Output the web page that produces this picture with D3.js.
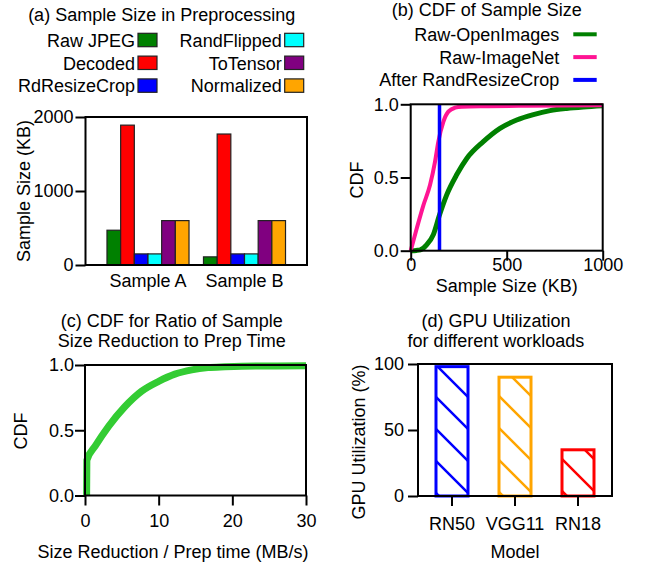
<!DOCTYPE html>
<head>
  <meta charset="utf-8">
  <style>
    body { margin: 0; background: #fff; }
    svg text {
      font-family: 'Liberation Sans', Arial, Helvetica, sans-serif;
      font-size: 18px;
      fill: #000;
    }
    .axis path.domain { display: none; }
    .axis line { stroke: #000; stroke-width: 2; }
    .axis text {
      font-family: 'Liberation Sans', Arial, Helvetica, sans-serif;
      font-size: 18px;
      fill: #000;
    }
  </style>
</head>

<body>
  <script src="https://cdn.jsdelivr.net/npm/d3@7"></script>
  <script>
    // ---------------- data ----------------
    // (a) sample size per preprocessing stage
    const samples = ["Sample A", "Sample B"];
    const stages = ["Raw JPEG", "Decoded", "RdResizeCrop", "RandFlipped", "ToTensor", "Normalized"];
    const stageColors = ["#008000", "#ff0000", "#0000ff", "#00ffff", "#800080", "#ffa500"];
    const sampleA = [470, 1890, 150, 150, 600, 600];
    const sampleB = [110, 1770, 150, 150, 600, 600];

    // (b) CDF of sample size (KB)
    const cdfSeries = ["Raw-OpenImages", "Raw-ImageNet", "After RandResizeCrop"];
    const cdfColors = ["#008000", "#ff1493", "#0000ff"];
    const openImagesKB = [0, 30, 50, 83, 118, 149, 187, 240, 292, 378, 465, 552, 639, 726, 812, 899, 1000];
    const openImagesCdf = [0, 0.002, 0.006, 0.04, 0.11, 0.24, 0.38, 0.52, 0.63, 0.745, 0.836, 0.893, 0.93, 0.957, 0.972, 0.982, 0.99];
    const imageNetKB = [0, 31, 66, 101, 127, 144, 170, 196, 231, 266, 400, 600, 1000];
    const imageNetCdf = [0, 0.15, 0.31, 0.45, 0.61, 0.745, 0.88, 0.95, 0.977, 0.984, 0.987, 0.99, 0.994];
    const resizeCropKB = 150;

    // (c) CDF of size reduction / prep time (MB/s)
    const ratioMBs = [0.22, 0.25, 1.4, 3.2, 5.4, 7.7, 10, 12.2, 14.5, 16.7, 19, 21.3, 30];
    const ratioCdf = [0, 0.27, 0.38, 0.53, 0.68, 0.8, 0.875, 0.93, 0.963, 0.98, 0.986, 0.99, 0.995];

    // (d) GPU utilization
    const models = ["RN50", "VGG11", "RN18"];
    const gpuUtil = [98, 90, 35];
    const modelColors = ["#0000ff", "#ffa500", "#ff0000"];

    const svg = d3.select("body").append("svg")
      .attr("width", 646)
      .attr("height", 564);

    function frame(x0, x1, y0, y1) {
      svg.append("rect")
        .attr("x", x0).attr("y", y0)
        .attr("width", x1 - x0).attr("height", y1 - y0)
        .attr("fill", "none")
        .attr("stroke", "#000")
        .attr("stroke-width", 2);
    }

    function title(lines, cx, y0) {
      lines.forEach((t, i) => {
        svg.append("text")
          .attr("x", cx).attr("y", y0 + i * 20)
          .attr("text-anchor", "middle")
          .text(t);
      });
    }

    function yLabel(t, x, cy) {
      svg.append("text")
        .attr("transform", "translate(" + x + "," + cy + ") rotate(-90)")
        .attr("text-anchor", "middle")
        .text(t);
    }

    function xLabel(t, cx, y) {
      svg.append("text")
        .attr("x", cx).attr("y", y)
        .attr("text-anchor", "middle")
        .text(t);
    }

    //------------------ (a) ------------------//
    const xa = d3.scaleBand().domain(samples).range([85.5, 307])
      .paddingInner(0.15).paddingOuter(0.2226);
    const xaStage = d3.scaleBand().domain(stages).range([0, xa.bandwidth()]);
    const ya = d3.scaleLinear().domain([0, 2000]).range([265, 117]);

    const aRows = [];
    samples.forEach((s, i) => {
      const vals = i === 0 ? sampleA : sampleB;
      stages.forEach((st, j) => aRows.push({ sample: s, stage: st, value: vals[j], color: stageColors[j] }));
    });

    svg.append("g").selectAll("rect").data(aRows).enter().append("rect")
      .attr("x", d => xa(d.sample) + xaStage(d.stage))
      .attr("y", d => ya(d.value))
      .attr("width", xaStage.bandwidth())
      .attr("height", d => ya(0) - ya(d.value))
      .attr("fill", d => d.color)
      .attr("stroke", "#222")
      .attr("stroke-width", 1.2);

    svg.append("g").attr("class", "axis")
      .attr("transform", "translate(85.5,0)")
      .call(d3.axisLeft(ya).tickValues([0, 1000, 2000]).tickFormat(d3.format("d"))
        .tickSize(10).tickSizeOuter(0).tickPadding(2));
    svg.append("g").attr("class", "axis")
      .attr("transform", "translate(0,265)")
      .call(d3.axisBottom(xa).tickSize(0).tickPadding(9));
    frame(85.5, 307, 117, 265);

    title(["(a) Sample Size in Preprocessing"], 161.7, 21);
    yLabel("Sample Size (KB)", 30, 191);

    // legend (a)
    const legA = svg.append("g").selectAll("g").data(stages).enter().append("g")
      .attr("transform", (d, j) => "translate(" + (Math.floor(j / 3) === 0 ? 135 : 281.7) + "," + (46.7 + (j % 3) * 22.8) + ")");
    legA.append("text")
      .attr("text-anchor", "end")
      .text(d => d);
    legA.append("rect")
      .attr("x", 3).attr("y", -13.4)
      .attr("width", 19).attr("height", 13.4)
      .attr("fill", (d, j) => stageColors[j])
      .attr("stroke", "#222")
      .attr("stroke-width", 1.2);

    //------------------ (b) ------------------//
    const xb = d3.scaleLinear().domain([0, 1000]).range([410.7, 602.7]);
    const yb = d3.scaleLinear().domain([0, 1]).range([250.7, 104.3]);
    const lineB = d3.line().x(d => xb(d[0])).y(d => yb(d[1])).curve(d3.curveMonotoneX);

    svg.append("path")
      .datum(openImagesKB.map((v, i) => [v, openImagesCdf[i]]))
      .attr("d", lineB)
      .attr("fill", "none").attr("stroke", cdfColors[0]).attr("stroke-width", 5);
    svg.append("path")
      .datum(imageNetKB.map((v, i) => [v, imageNetCdf[i]]))
      .attr("d", lineB)
      .attr("fill", "none").attr("stroke", cdfColors[1]).attr("stroke-width", 4);
    svg.append("line")
      .attr("x1", xb(resizeCropKB)).attr("x2", xb(resizeCropKB))
      .attr("y1", yb(0)).attr("y2", yb(1))
      .attr("stroke", cdfColors[2]).attr("stroke-width", 3.5);

    svg.append("g").attr("class", "axis")
      .attr("transform", "translate(410.7,0)")
      .call(d3.axisLeft(yb).tickValues([0, 0.5, 1]).tickFormat(d3.format(".1f"))
        .tickSize(10).tickSizeOuter(0).tickPadding(2));
    svg.append("g").attr("class", "axis")
      .attr("transform", "translate(0,250.7)")
      .call(d3.axisBottom(xb).tickValues([0, 500, 1000]).tickFormat(d3.format("d"))
        .tickSize(10).tickSizeOuter(0).tickPadding(-2));
    frame(410.7, 602.7, 104.3, 250.7);

    title(["(b) CDF of Sample Size"], 486.7, 16);
    yLabel("CDF", 363, 180);
    xLabel("Sample Size (KB)", 506.7, 292);

    const legB = svg.append("g").selectAll("g").data(cdfSeries).enter().append("g")
      .attr("transform", (d, i) => "translate(559.3," + (40.7 + i * 22.8) + ")");
    legB.append("text").attr("text-anchor", "end").text(d => d);
    legB.append("line")
      .attr("x1", 14).attr("x2", 37.4)
      .attr("y1", -6.4).attr("y2", -6.4)
      .attr("stroke", (d, i) => cdfColors[i])
      .attr("stroke-width", 4);

    //------------------ (c) ------------------//
    const xc = d3.scaleLinear().domain([0, 30]).range([85, 306]);
    const yc = d3.scaleLinear().domain([0, 1]).range([495.5, 365]);
    const lineC = d3.line().x(d => xc(d[0])).y(d => yc(d[1])).curve(d3.curveMonotoneX);

    svg.append("path")
      .datum(ratioMBs.map((v, i) => [v, ratioCdf[i]]))
      .attr("d", lineC)
      .attr("fill", "none").attr("stroke", "#33cc33").attr("stroke-width", 7);

    svg.append("g").attr("class", "axis")
      .attr("transform", "translate(85,0)")
      .call(d3.axisLeft(yc).tickValues([0, 0.5, 1]).tickFormat(d3.format(".1f"))
        .tickSize(10).tickSizeOuter(0).tickPadding(1));
    svg.append("g").attr("class", "axis")
      .attr("transform", "translate(0,495.5)")
      .call(d3.axisBottom(xc).tickValues([0, 10, 20, 30]).tickSize(10).tickSizeOuter(0).tickPadding(9));
    frame(85, 306, 365, 495.5);

    title(["(c) CDF for Ratio of Sample", "Size Reduction to Prep Time"], 171.7, 327);
    yLabel("CDF", 27, 431);
    xLabel("Size Reduction / Prep time (MB/s)", 173, 558);

    //------------------ (d) ------------------//
    const xd = d3.scaleBand().domain(models).range([418, 612])
      .paddingInner(0.492).paddingOuter(0.2857);
    const yd = d3.scaleLinear().domain([0, 100]).range([496, 364]);

    const defs = svg.append("defs");
    defs.selectAll("pattern").data(modelColors).enter().append("pattern")
      .attr("id", (d, i) => "hatch" + i)
      .attr("patternUnits", "userSpaceOnUse")
      .attr("width", 32).attr("height", 32)
      .append("path")
      .attr("d", "M-2,23 L9,34 M5,-2 L34,27")
      .attr("stroke", d => d)
      .attr("stroke-width", 2.5)
      .attr("fill", "none");

    svg.append("g").selectAll("rect").data(models).enter().append("rect")
      .attr("x", d => xd(d))
      .attr("y", (d, i) => yd(gpuUtil[i]))
      .attr("width", xd.bandwidth())
      .attr("height", (d, i) => yd(0) - yd(gpuUtil[i]))
      .attr("fill", (d, i) => "url(#hatch" + i + ")")
      .attr("stroke", (d, i) => modelColors[i])
      .attr("stroke-width", 3);

    svg.append("g").attr("class", "axis")
      .attr("transform", "translate(418,0)")
      .call(d3.axisLeft(yd).tickValues([0, 50, 100]).tickSize(10).tickSizeOuter(0).tickPadding(4));
    svg.append("g").attr("class", "axis")
      .attr("transform", "translate(0,496)")
      .call(d3.axisBottom(xd).tickSize(10).tickSizeOuter(0).tickPadding(11));
    frame(418, 612, 364, 496);

    title(["(d) GPU Utilization", "for different workloads"], 496, 327);
    yLabel("GPU Utilization (%)", 365, 442);
    xLabel("Model", 515, 558);
  </script>
</body>
